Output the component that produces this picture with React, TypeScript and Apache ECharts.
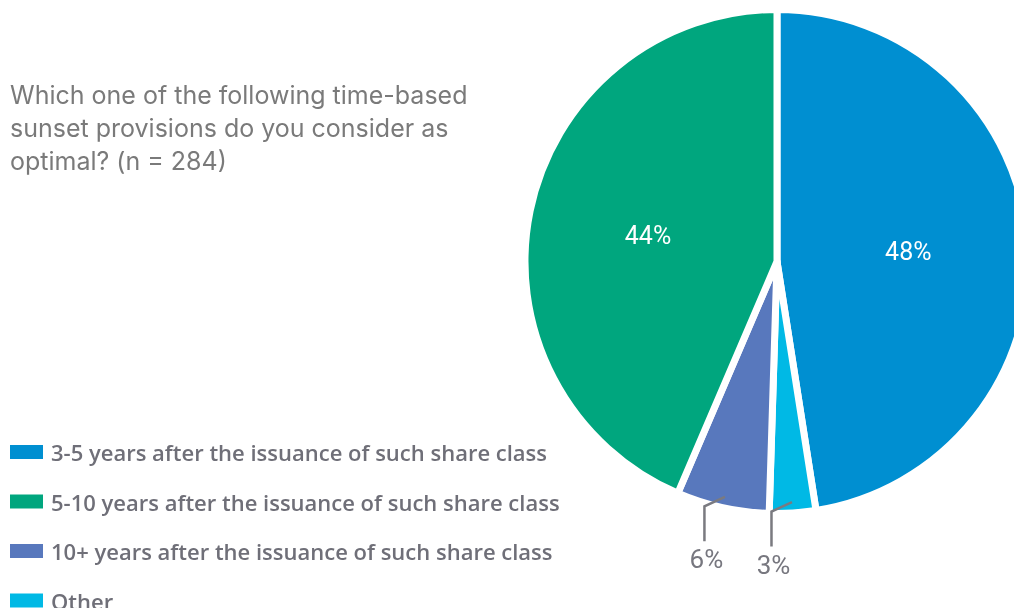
import React, { useEffect, useRef } from "react";
import * as echarts from "echarts";

const categories = [
  "3-5 years after the issuance of such share class",
  "5-10 years after the issuance of such share class",
  "10+ years after the issuance of such share class",
  "Other",
];
const values = [48, 44, 6, 3];
const colors = ["#008fd1", "#00a67e", "#5878bd", "#00b9e5"];
// clockwise order of the slices in the pie, starting at 12 o'clock
const pieOrder = [0, 3, 2, 1];
const titleLines = [
  "Which one of the following time-based",
  "sunset provisions do you consider as",
  "optimal? (n = 284)",
];

const CX = 777;
const CY = 261.5;
const R = 252;
const BORDER = 7;
const RVIS = R - BORDER / 2;

export default function App() {
  const ref = useRef<HTMLDivElement>(null);
  useEffect(() => {
    if (!ref.current) return;
    const chart = echarts.init(ref.current, null, { renderer: "svg" });
    const baseData = pieOrder.map((i) => ({
      name: categories[i],
      value: values[i],
      color: colors[i],
    }));
    const total = baseData.reduce((s, d) => s + d.value, 0);
    const midAngles: number[] = [];
    let acc = 0;
    baseData.forEach((d) => {
      midAngles.push(((acc + d.value / 2) / total) * Math.PI * 2);
      acc += d.value;
    });
    const isSmall = (v: number) => v < 10;

    const sliceData = baseData.map((d) => ({
      name: d.name,
      value: d.value,
      itemStyle: { color: d.color },
      label: { show: !isSmall(d.value) },
    }));
    const overlayData = baseData.map((d) => ({
      name: d.name,
      value: d.value,
      itemStyle: { color: "rgba(0,0,0,0)", borderWidth: 0 },
      label: { show: isSmall(d.value) },
      labelLine: { show: isSmall(d.value) },
    }));

    const insideLayout = (params: any) => {
      const a = midAngles[params.dataIndex];
      const d = RVIS * 0.53;
      return {
        x: CX + Math.sin(a) * d,
        y: CY - Math.cos(a) * d,
        align: "center",
        verticalAlign: "middle",
      };
    };
    const outsideLayout = (params: any) => {
      const a = midAngles[params.dataIndex];
      const d0 = RVIS * 0.97;
      const p0 = [CX + Math.sin(a) * d0, CY - Math.cos(a) * d0];
      const p1 = [p0[0] - 20.5, p0[1] + 9.5];
      const p2 = [p1[0], p1[1] + 35];
      return {
        x: p2[0] + 2,
        y: p2[1] + 5,
        align: "center",
        verticalAlign: "top",
        labelLinePoints: [p0, p1, p2],
      };
    };

    chart.setOption({
      animation: false,
      title: {
        text: titleLines.join("\n"),
        left: 5,
        top: 73,
        textStyle: {
          fontFamily: "Inter",
          fontSize: 25,
          fontWeight: "normal",
          color: "#7a7a7a",
          lineHeight: 33,
        },
      },
      legend: {
        orient: "vertical",
        left: 8,
        top: 441,
        padding: 0,
        itemWidth: 35,
        itemHeight: 16,
        itemGap: 27.5,
        icon: "rect",
        data: categories,
        textStyle: {
          fontFamily: "Open Sans",
          fontSize: 22,
          lineHeight: 22,
          fontWeight: 600,
          color: "#6f6f78",
          padding: [0, 0, 0, 2],
        },
      },
      series: [
        {
          type: "pie",
          z: 2,
          center: [CX, CY],
          radius: R,
          startAngle: 90,
          clockwise: true,
          itemStyle: { borderColor: "#ffffff", borderWidth: BORDER },
          label: {
            position: "inside",
            formatter: "{c}%",
            fontFamily: "Roboto",
            fontSize: 25,
            color: "#ffffff",
          },
          labelLine: { show: false },
          emphasis: { disabled: true },
          labelLayout: insideLayout,
          data: sliceData,
        },
        {
          type: "pie",
          z: 6,
          center: [CX, CY],
          radius: R,
          startAngle: 90,
          clockwise: true,
          silent: true,
          label: {
            position: "outside",
            formatter: "{c}%",
            fontFamily: "Roboto",
            fontSize: 26,
            color: "#77777f",
          },
          labelLine: { lineStyle: { color: "#7a7a80", width: 2.5 } },
          emphasis: { disabled: true },
          labelLayout: outsideLayout,
          data: overlayData,
        },
      ],
    });
    return () => chart.dispose();
  }, []);
  return (
    <div
      ref={ref}
      style={{ position: "fixed", left: 0, top: 0, width: 1014, height: 680 }}
    />
  );
}
